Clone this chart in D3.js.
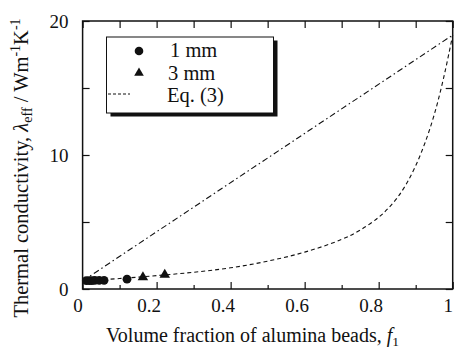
<!DOCTYPE html>
<html>
<head>
<meta charset="utf-8">
<script src="https://cdn.jsdelivr.net/npm/d3@7"></script>
<style>
  body { margin: 0; background: #fff; }
  text { font-family: "Liberation Serif", "DejaVu Serif", serif; fill: #111; }
</style>
</head>
<body>
<script>
const f1mm = [0.01, 0.018, 0.025, 0.033, 0.045, 0.058, 0.12];
const k1mm = [0.62, 0.62, 0.63, 0.64, 0.64, 0.65, 0.73];
const f3mm = [0.163, 0.222];
const k3mm = [0.88, 1.06];

// Eq. (3) curve
const fEq3 = [0, 0.1, 0.2, 0.3, 0.4, 0.5, 0.6, 0.7, 0.75, 0.8, 0.825, 0.85, 0.875, 0.9, 0.925, 0.95, 0.975, 1];
const kEq3 = [0.6, 0.78, 1.0, 1.25, 1.58, 2.08, 2.75, 3.7, 4.4, 5.35, 6.0, 6.8, 7.85, 9.2, 10.9, 13.0, 15.7, 18.95];

// dash-dot line (parallel model)
const fPar = [0, 1];
const kPar = [0.6, 18.95];

const xMajor = [0, 0.2, 0.4, 0.6, 0.8, 1];
const xMinor = [0.1, 0.3, 0.5, 0.7, 0.9];
const yLabels = [0, 10, 20];
const yTicks = [0, 5, 10, 15, 20];
const legendLabels = ["1 mm", "3 mm", "Eq. (3)"];

const width = 457, height = 353;
const margin = {top: 21, right: 4.3, bottom: 64, left: 82.6};

const x = d3.scaleLinear().domain([0, 1]).range([margin.left, width - margin.right]);
const y = d3.scaleLinear().domain([0, 20]).range([height - margin.bottom, margin.top]);

const svg = d3.select("body").append("svg")
  .attr("width", width)
  .attr("height", height);

// frame
svg.append("rect")
  .attr("x", x(0)).attr("y", y(20))
  .attr("width", x(1) - x(0)).attr("height", y(0) - y(20))
  .attr("fill", "none").attr("stroke", "#111").attr("stroke-width", 1.5);

function styleAxis(g) {
  g.select(".domain").remove();
  g.selectAll(".tick line").attr("stroke", "#111").attr("stroke-width", 1.2);
}

// bottom axis (inward ticks)
svg.append("g")
  .attr("transform", "translate(0," + y(0) + ")")
  .call(d3.axisBottom(x).tickValues(xMajor).tickSize(-7).tickSizeOuter(0)
    .tickFormat(d => d === 0 || d === 1 ? d3.format("d")(d) : d3.format(".1f")(d)))
  .call(styleAxis)
  .call(g => g.selectAll(".tick text")
    .attr("y", 23).attr("dy", 0)
    .attr("dx", d => (d === 0 || d === 1) ? -5 : -8)
    .style("font-size", "19px")
    .style("font-family", "Liberation Serif"));

svg.append("g")
  .attr("transform", "translate(0," + y(0) + ")")
  .call(d3.axisBottom(x).tickValues(xMinor).tickSize(-4).tickFormat(""))
  .call(styleAxis);

// top axis
svg.append("g")
  .attr("transform", "translate(0," + y(20) + ")")
  .call(d3.axisTop(x).tickValues(xMajor.concat(xMinor)).tickSize(-7).tickFormat(""))
  .call(styleAxis);

// left axis
svg.append("g")
  .attr("transform", "translate(" + x(0) + ",0)")
  .call(d3.axisLeft(y).tickValues(yTicks).tickSize(-7)
    .tickFormat(d => yLabels.includes(d) ? d : ""))
  .call(styleAxis)
  .call(g => g.selectAll(".tick text")
    .attr("x", -14).attr("dy", "0.34em")
    .style("font-size", "19px")
    .style("font-family", "Liberation Serif"));

// right axis
svg.append("g")
  .attr("transform", "translate(" + x(1) + ",0)")
  .call(d3.axisRight(y).tickValues(yTicks).tickSize(-7).tickFormat(""))
  .call(styleAxis);

// lines
const line = d3.line().x(d => x(d[0])).y(d => y(d[1]));

svg.append("path")
  .datum(d3.zip(fPar, kPar))
  .attr("d", line)
  .attr("fill", "none").attr("stroke", "#111").attr("stroke-width", 1.1)
  .attr("stroke-dasharray", "6,3,1.5,3");

svg.append("path")
  .datum(d3.zip(fEq3, kEq3))
  .attr("d", line.curve(d3.curveCatmullRom))
  .attr("fill", "none").attr("stroke", "#111").attr("stroke-width", 1.1)
  .attr("stroke-dasharray", "4,3");

// points
svg.selectAll(".dot1")
  .data(d3.zip(f1mm, k1mm))
  .join("circle")
  .attr("cx", d => x(d[0])).attr("cy", d => y(d[1]))
  .attr("r", 4.4).attr("fill", "#111");

const tri = d3.symbol().type(d3.symbolTriangle).size(48);
svg.selectAll(".dot3")
  .data(d3.zip(f3mm, k3mm))
  .join("path")
  .attr("d", tri)
  .attr("transform", d => "translate(" + x(d[0]) + "," + y(d[1]) + ")")
  .attr("fill", "#111");

// legend
const lg = svg.append("g");
lg.append("rect")
  .attr("x", 110.5).attr("y", 40.5).attr("width", 167).attr("height", 76)
  .attr("fill", "#111");
lg.append("rect")
  .attr("x", 106.5).attr("y", 37).attr("width", 167).attr("height", 76)
  .attr("fill", "#fff").attr("stroke", "#111").attr("stroke-width", 1);

const rowY = [57, 80, 102];
lg.append("circle").attr("cx", 139).attr("cy", 51).attr("r", 4.3).attr("fill", "#111");
lg.append("path").attr("d", d3.symbol().type(d3.symbolTriangle).size(40))
  .attr("transform", "translate(139,73)").attr("fill", "#111");
lg.append("line").attr("x1", 108).attr("x2", 130).attr("y1", 94).attr("y2", 94)
  .attr("stroke", "#111").attr("stroke-width", 1).attr("stroke-dasharray", "3,2");

lg.selectAll(".lt")
  .data(legendLabels)
  .join("text")
  .attr("x", (d, i) => [170, 168, 167][i])
  .attr("y", (d, i) => rowY[i])
  .style("font-size", "20.5px")
  .text(d => d);

// axis titles
const xt = svg.append("text")
  .attr("x", 106).attr("y", 342)
  .style("font-size", "20px");
xt.append("tspan").text("Volume fraction of alumina beads, ");
xt.append("tspan").style("font-style", "italic").text("f");
xt.append("tspan").attr("dy", 4).style("font-size", "13.5px").text("1");

const yt = svg.append("text")
  .attr("transform", "translate(28,168) rotate(-90)")
  .attr("text-anchor", "middle")
  .style("font-size", "20.5px");
yt.append("tspan").text("Thermal conductivity, ");
yt.append("tspan").style("font-style", "italic").text("λ");
yt.append("tspan").attr("dy", 4).style("font-size", "14px").text("eff");
yt.append("tspan").attr("dy", -4).text(" / Wm");
yt.append("tspan").attr("dy", -8).style("font-size", "14px").text("-1");
yt.append("tspan").attr("dy", 8).text("K");
yt.append("tspan").attr("dy", -8).style("font-size", "14px").text("-1");
</script>
</body>
</html>
